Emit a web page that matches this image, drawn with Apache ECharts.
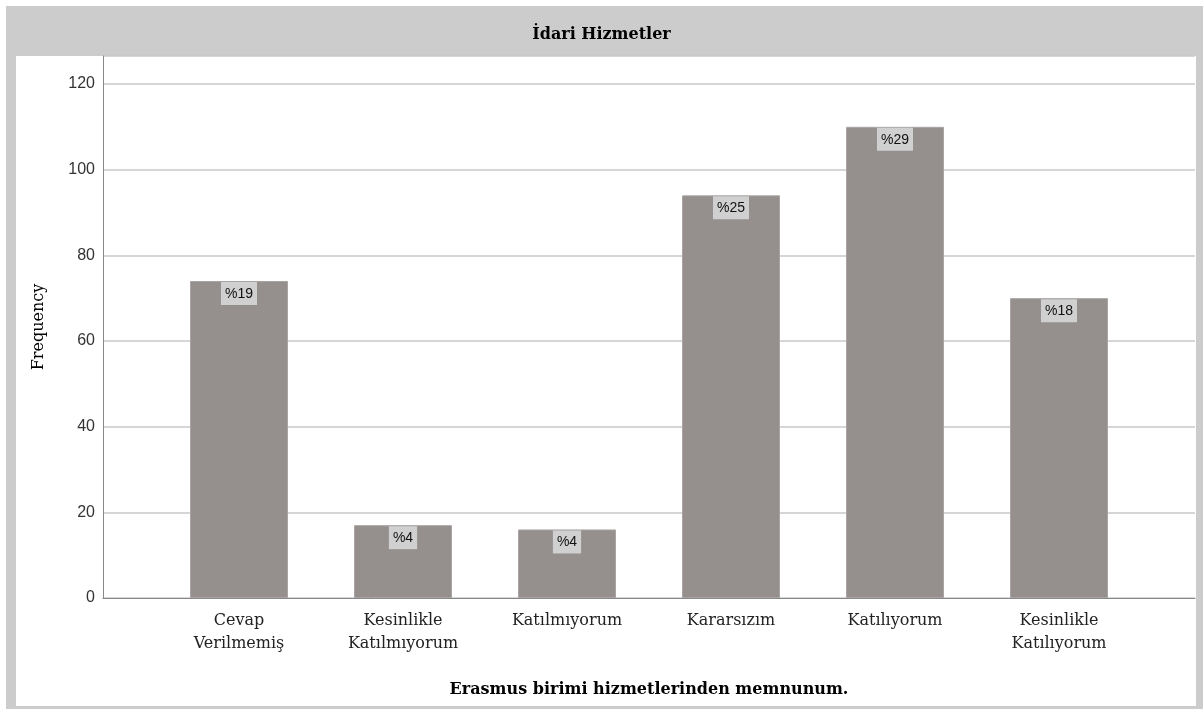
<!DOCTYPE html>
<html>
<head>
<meta charset="utf-8">
<script src="https://cdn.jsdelivr.net/npm/echarts@6/dist/echarts.min.js"></script>
<style>
html,body{margin:0;padding:0;background:#ffffff;}
#frame{position:absolute;left:6px;top:6px;width:1197px;height:703px;background:#cccccc;}
#panel{position:absolute;left:16px;top:56px;width:1180px;height:650px;background:#ffffff;}
#chart{position:absolute;left:0;top:0;width:1203px;height:709px;}
</style>
</head>
<body>
<div id="frame"></div>
<div id="panel"></div>
<div id="chart"></div>
<script>
const categories = ['Cevap\nVerilmemiş', 'Kesinlikle\nKatılmıyorum', 'Katılmıyorum', 'Kararsızım', 'Katılıyorum', 'Kesinlikle\nKatılıyorum'];
const frequencies = [74, 17, 16, 94, 110, 70];
const percentLabels = ['%19', '%4', '%4', '%25', '%29', '%18'];
const yTicks = [0, 20, 40, 60, 80, 100, 120];
const titleText = 'İdari Hizmetler';
const xTitle = 'Erasmus birimi hizmetlerinden memnunum.';
const yTitle = 'Frequency';

const serif = 'DejaVu Serif';
const sans = 'Liberation Sans';

const chart = echarts.init(document.getElementById('chart'), null, {renderer: 'canvas'});
chart.setOption({
  backgroundColor: 'transparent',
  animation: false,
  title: {
    text: titleText,
    left: 'center',
    top: 22,
    textStyle: {fontFamily: serif, fontSize: 16, fontWeight: 'bold', color: '#000000'}
  },
  grid: [
    {left: 103, right: 8, top: 56, bottom: 111},
    {left: 157, right: 62, top: 84, bottom: 111}
  ],
  xAxis: [
    {
      gridIndex: 0, type: 'category', data: [''],
      axisLine: {show: true, lineStyle: {color: '#888888', width: 1}},
      axisTick: {show: false}, axisLabel: {show: false},
      name: xTitle, nameLocation: 'middle', nameGap: 84,
      nameTextStyle: {fontFamily: serif, fontSize: 16, fontWeight: 'bold', color: '#000000'}
    },
    {
      gridIndex: 1, type: 'category', data: categories,
      axisLine: {show: false}, axisTick: {show: false},
      axisLabel: {fontFamily: serif, fontSize: 16, color: '#222222', lineHeight: 23, margin: 11, interval: 0, align: 'center'}
    }
  ],
  yAxis: [
    {
      gridIndex: 0, type: 'value', min: 0, max: 120 * 542 / 514, interval: 20,
      axisLine: {show: true, lineStyle: {color: '#888888', width: 1}},
      axisTick: {show: false},
      axisLabel: {fontFamily: sans, fontSize: 16, color: '#333333', margin: 8, showMaxLabel: false,
        formatter: v => (yTicks.indexOf(v) >= 0 ? String(v) : '')},
      splitLine: {show: true, lineStyle: {color: '#c8c8c8', width: 1.5}},
      name: yTitle, nameLocation: 'middle', nameGap: 56, nameRotate: 90,
      nameTextStyle: {fontFamily: serif, fontSize: 16, color: '#000000'}
    },
    {
      gridIndex: 1, type: 'value', min: 0, max: 120, interval: 20,
      axisLine: {show: false}, axisTick: {show: false}, axisLabel: {show: false}, splitLine: {show: false}
    }
  ],
  series: [{
    type: 'bar',
    xAxisIndex: 1, yAxisIndex: 1,
    data: frequencies,
    barWidth: 98,
    itemStyle: {color: '#958f8e', borderColor: '#a9a4a3', borderWidth: 1},
    label: {
      show: true, position: 'insideTop', distance: 1,
      formatter: p => percentLabels[p.dataIndex],
      fontFamily: sans, fontSize: 14, color: '#111111',
      backgroundColor: '#d0d0d0', padding: [5, 4, 4, 4]
    }
  }]
});
</script>
</body>
</html>
